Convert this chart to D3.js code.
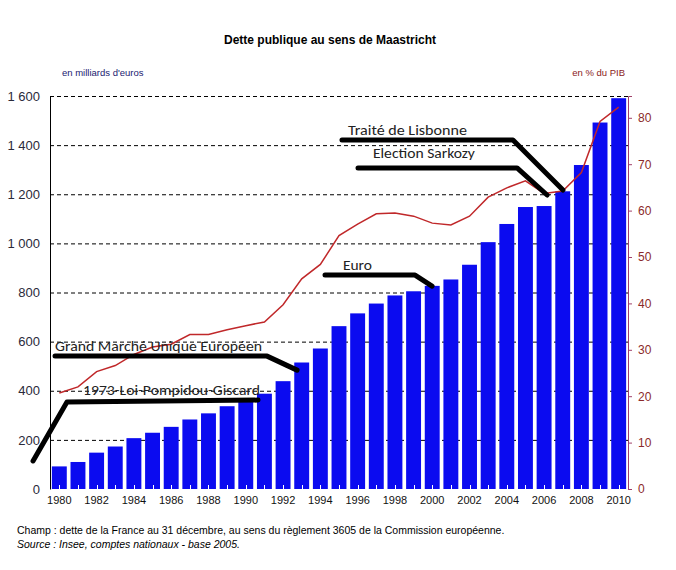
<!DOCTYPE html>
<html><head><meta charset="utf-8">
<script src="https://cdn.jsdelivr.net/npm/d3@7"></script>
<style>body{margin:0;background:#fff}svg{display:block}</style>
</head><body>
<svg id="c" width="676" height="570"></svg>
<script>
const years = d3.range(1980, 2011);
const debt = [92,110,148,173,207,229,253,283,308,337,364,388,439,515,572,663,715,755,788,805,827,853,913,1005,1079,1148,1152,1212,1319,1492,1591];
const ratio = [20.7,22.0,25.3,26.6,29.0,30.6,31.2,33.3,33.3,34.3,35.2,36.0,39.7,45.3,48.4,54.6,57.1,59.3,59.5,58.8,57.3,56.9,58.8,62.9,64.9,66.4,63.7,64.2,68.2,79.2,82.3];
const leftTicks = [0,200,400,600,800,1000,1200,1400,1600];
const rightTicks = [0,10,20,30,40,50,60,70,80];
const yearLabels = d3.range(1980, 2011, 2);
const annotations = [
  {text:"1973-Loi-Pompidou-Giscard", tx:1981.27, tv:382, pts:[[1978.59,114],[1980.41,354],[1990.66,362]]},
  {text:"Grand Marché Unique Européen", tx:1979.77, tv:562, pts:[[1979.77,541],[1991.14,541],[1992.75,484]]},
  {text:"Euro", tx:1995.21, tv:892, pts:[[1994.25,871],[1999.08,871],[1999.99,826]]},
  {text:"Traité de Lisbonne", tx:1995.48, tv:1441, pts:[[1995.16,1421],[2004.33,1421],[2007.01,1217]]},
  {text:"Election Sarkozy", tx:1996.82, tv:1348, pts:[[1996.02,1307],[2004.55,1307],[2006.16,1197]]}
];
const annoWidths = [177, 207, 29, 119, 102];

const L = 50, R = 628, T = 96, B = 489;
const svg = d3.select("#c");
const x = d3.scaleBand().domain(years).range([L, R]).paddingInner(0.2).paddingOuter(0.1);
const xLin = d3.scaleLinear().domain([1979.5, 2010.5]).range([L, R]);
const y = d3.scaleLinear().domain([0, 1600]).range([B, T]);
const y2 = d3.scaleLinear().domain([0, 393/4.64]).range([B, T]);

// title
svg.append("text").attr("x", 330).attr("y", 44).attr("text-anchor","middle")
  .attr("font-family","Arial, Liberation Sans, sans-serif").attr("font-weight","bold").attr("font-size",12)
  .text("Dette publique au sens de Maastricht");
svg.append("text").attr("x", 62).attr("y", 76).attr("font-family","Arial, Liberation Sans, sans-serif")
  .attr("font-size",9.5).attr("fill","#1a1a70").text("en milliards d'euros");
svg.append("text").attr("x", 625).attr("y", 76).attr("text-anchor","end").attr("font-family","Arial, Liberation Sans, sans-serif")
  .attr("font-size",9.5).attr("fill","#8b1a1a").text("en % du PIB");

// gridlines
svg.append("g").selectAll("line").data(leftTicks.filter(d=>d>0)).join("line")
  .attr("x1", L).attr("x2", R).attr("y1", d=>y(d)+0.5).attr("y2", d=>y(d)+0.5)
  .attr("stroke","#000").attr("stroke-width",1).attr("stroke-dasharray","4,3");

// bars
svg.append("g").selectAll("rect").data(years).join("rect")
  .attr("x", d=>x(d)).attr("width", x.bandwidth())
  .attr("y", (d,i)=>y(debt[i])).attr("height",(d,i)=>B - y(debt[i]))
  .attr("fill","#0b0bf0");

// bottom ticks
svg.append("g").selectAll("line").data(years).join("line")
  .attr("x1", d=>Math.round(x(d)+x.bandwidth()/2)+0.5).attr("x2", d=>Math.round(x(d)+x.bandwidth()/2)+0.5)
  .attr("y1", B).attr("y2", B-4).attr("stroke","#fff").attr("stroke-width",1);

// left axis
const la = svg.append("g").attr("transform",`translate(${L},0)`)
  .call(d3.axisLeft(y).tickValues(leftTicks).tickSize(0).tickPadding(10)
    .tickFormat(d=>d3.format(",")(d).replace(",", " ")));
la.select(".domain").attr("stroke","#000");
la.selectAll("text").attr("font-family","Arial, Liberation Sans, sans-serif").attr("font-size",13).attr("fill","#2a2a3a");

// right axis
const ra = svg.append("g").attr("transform",`translate(${R},0)`)
  .call(d3.axisRight(y2).tickValues(rightTicks).tickSize(4).tickPadding(6));
ra.select(".domain").attr("stroke","#a0406a");
ra.selectAll(".tick line").attr("stroke","#a0406a");
ra.selectAll("text").attr("font-family","Arial, Liberation Sans, sans-serif").attr("font-size",12).attr("fill","#8b2a2a");

// year labels
svg.append("g").selectAll("text").data(yearLabels).join("text")
  .attr("x", d=>x(d)+x.bandwidth()/2).attr("y", B+15).attr("text-anchor","middle")
  .attr("font-family","Arial, Liberation Sans, sans-serif").attr("font-size",11).attr("fill","#111")
  .text(d=>d);

// ratio line
svg.append("path").datum(ratio)
  .attr("d", d3.line().x((d,i)=>x(years[i])+x.bandwidth()/2).y(d=>y2(d)))
  .attr("fill","none").attr("stroke","#c0282a").attr("stroke-width",1.5);

// annotations
const ag = svg.append("g");
annotations.forEach((a,i)=>{
  ag.append("path").attr("d", d3.line()(a.pts.map(p=>[xLin(p[0]), y(p[1])])))
    .attr("fill","none").attr("stroke","#000").attr("stroke-width",5)
    .attr("stroke-linecap","round").attr("stroke-linejoin","round");
  ag.append("text").attr("x", xLin(a.tx)).attr("y", y(a.tv))
    .attr("font-family","Carlito, Lato, Open Sans, sans-serif").attr("font-size",14).attr("fill","#222")
    .attr("textLength", annoWidths[i]).attr("lengthAdjust","spacingAndGlyphs")
    .text(a.text);
});

// footnotes
svg.append("text").attr("x",17).attr("y",534).attr("font-family","Arial, Liberation Sans, sans-serif").attr("font-size",10.5)
  .text("Champ : dette de la France au 31 décembre, au sens du règlement 3605 de la Commission européenne.");
svg.append("text").attr("x",17).attr("y",548).attr("font-family","Arial, Liberation Sans, sans-serif").attr("font-size",10.5)
  .attr("font-style","italic").text("Source : Insee, comptes nationaux - base 2005.");
</script>
</body></html>
